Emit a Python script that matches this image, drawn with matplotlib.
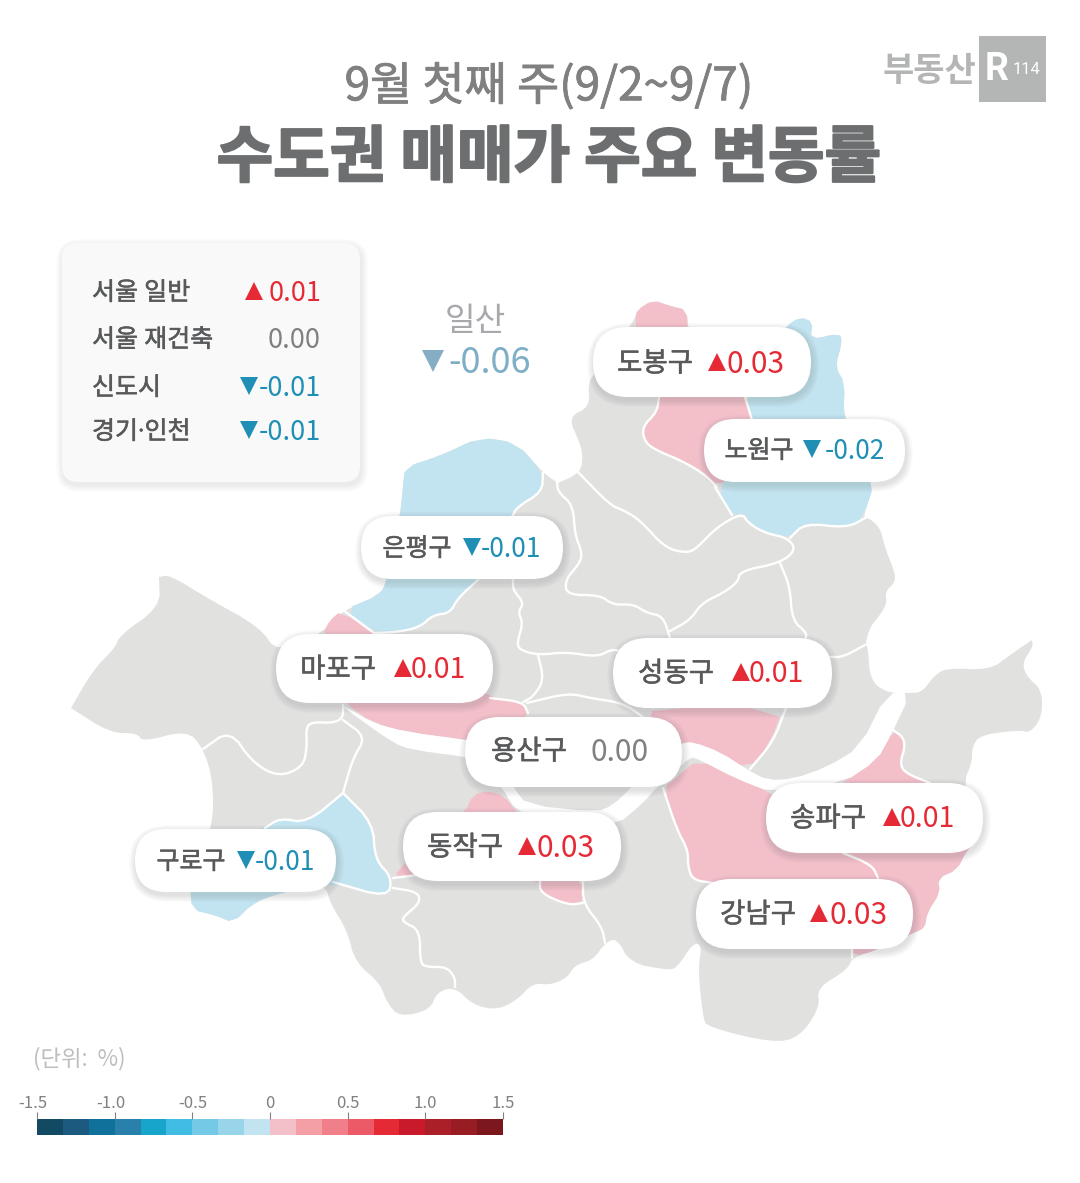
#!/usr/bin/env python3

import numpy as np
import matplotlib
matplotlib.use('Agg')
import matplotlib.pyplot as plt
import matplotlib.patheffects as pe
import matplotlib.transforms as mtrans
from matplotlib.patches import FancyBboxPatch, Polygon

plt.rcParams['font.family'] = ['Noto Sans CJK KR', 'DejaVu Sans']

GRAY = '#e1e1e0'
PINK = '#f3c0ca'
BLUE = '#c2e3f0'
RED = '#e52a36'
TEAL = '#1f8fb5'
TXT = '#58595b'
NUM = '#808080'

# table in the top left
summary_names = ['서울 일반', '서울 재건축', '신도시', '경기·인천']
summary_values = [0.01, 0.00, -0.01, -0.01]

# districts with a label
district_names = ['도봉구', '노원구', '은평구', '마포구', '성동구', '용산구', '송파구', '강남구', '동작구', '구로구']
district_values = [0.03, -0.02, -0.01, 0.01, 0.01, 0.00, 0.01, 0.03, 0.03, -0.01]

# colour scale
scale_edges = np.linspace(-1.5, 1.5, 19)
scale_colors = ['#134a63', '#1c5a80', '#10719b', '#2880ab', '#18a5cb', '#41bde4', '#74c9e7', '#98d4ea', '#c2e3f0',
                '#f3c0ca', '#f49ea6', '#f17f89', '#ec5a68', '#e52a36', '#c81a2a', '#ab1f28', '#981c24', '#7b171d']
scale_ticks = [-1.5, -1.0, -0.5, 0, 0.5, 1.0, 1.5]
scale_labels = ['-1.5', '-1.0', '-0.5', '0', '0.5', '1.0', '1.5']

# map outlines (points given twice stay sharp after smoothing)
seoul = [(71,708),(71,708),(93,670),(115,648),(120,635),(160,607),(159,577),(159,577),(170,575),(207,598),(260,627),(277,653),
         (323,633),(340,612),(380,595),(387,580),(400,516),(403,487),(405,467),(440,456),(480,437),(517,443),
         (543,473),(558,483),(558,483),(580,473),(583,457),(580,443),(568,417),(590,407),(588,383),(595,373),(635,320),
         (637,310),(653,300),(670,306),(687,310),(688,335),(785,335),(785,327),(800,317),(813,322),(810,340),(840,333),
         (842,343),(835,367),(845,383),(843,420),(875,482),(863,517),(867,517),(880,527),(885,548),(895,573),
         (895,582),(885,592),(887,603),(880,615),(870,627),(865,645),(868,647),(870,680),(887,693),(912,693),
         (922,692),(935,675),(947,668),(990,670),(1010,655),(1032,640),(1032,640),(1033,647),(1022,663),(1027,677),(1042,690),
         (1042,717),(1030,733),(1020,730),(980,735),(972,747),(972,763),(963,783),(978,840),(967,850),(957,870),
         (938,878),(940,893),(927,913),(925,928),(913,933),(877,950),(853,957),(847,970),(817,988),(820,1007),
         (800,1037),(773,1043),(707,1027),(703,1017),(698,970),(702,945),(693,943),(677,968),(667,970),(630,963),
         (617,938),(605,943),(593,960),(575,965),(567,978),(550,985),(533,983),(517,1000),(497,1010),(473,1005),
         (455,987),(437,992),(430,1010),(400,1017),(387,1003),(380,983),(355,962),(347,930),(330,903),(325,883),
         (280,893),(253,903),(233,923),(215,915),(192,910),(190,885),(213,827),(213,780),(203,748),(187,730),
         (143,742),(137,733),(110,733)]
eunpyeong = [(343,610),(380,595),(387,580),(400,516),(403,487),(405,467),(440,456),(480,437),(517,443),(543,473),
             (542,492),(517,507),(512,517),(478,580),(458,598),(450,613),(433,615),(420,627),(398,632),(375,633)]
dobong = [(635,320),(637,310),(653,300),(670,306),(687,310),(688,335),(733,335),(745,397),(752,420),(740,470),(717,487),
          (703,473),(680,460),(660,452),(645,443),(642,427),(657,412),(659,397),(640,380)]
nowon = [(745,397),(785,335),(785,327),(800,317),(813,322),(810,340),(840,333),(842,343),(835,367),(845,383),(843,420),
         (875,482),(863,517),(850,527),(827,525),(803,523),(790,538),(767,533),(750,523),(745,513),(732,515),
         (717,487),(740,470),(752,420)]
mapo = [(323,633),(330,620),(341,611),(378,636),(490,698),(523,702),(528,713),(515,745),(467,740),(407,732),
        (373,723),(345,703),(330,680)]
seongdong = [(653,708),(783,708),(770,743),(748,770),(720,752),(693,742),(660,745),(650,720)]
gangnam = [(698,759),(737,779),(773,793),(800,820),(843,853),(872,865),(878,878),(880,900),(852,940),(800,940),
           (713,883),(693,880),(688,867),(688,850),(677,830),(663,788),(677,777)]
songpa = [(840,783),(877,760),(893,730),(903,737),(905,747),(900,763),(905,773),(930,783),(975,820),(978,840),
          (967,850),(957,870),(938,878),(940,893),(927,913),(925,928),(913,933),(877,950),(853,957),(853,940),
          (880,900),(878,878),(872,865),(843,853),(790,840)]
dongjak = [(393,877),(405,863),(465,812),(473,795),(487,791),(503,795),(517,812),(545,850),(583,882),(583,903),
           (568,905),(540,893),(540,880),(470,870),(418,875)]
guro = [(265,828),(280,818),(307,823),(343,793),(343,793),(373,823),(375,860),(392,877),(388,898),(333,882),(280,893),
        (253,903),(233,923),(215,915),(192,910),(190,885),(215,840)]
river = [(343,705),(373,723),(407,732),(467,740),(490,745),(513,787),(527,805),(597,812),(613,805),(632,787),
         (655,755),(683,743),(693,742),(720,752),(748,770),(767,780),(793,779),(827,767),(860,747),(887,693),
         (911,693),(890,737),(877,760),(843,783),(773,793),(737,779),(698,759),(690,757),(672,775),(657,787),
         (643,803),(617,825),(560,830),(517,812),(500,785),(485,762),(467,757),(413,750),(393,743),(343,707)]

borders = [
    [(578,472),(610,505),(623,510),(640,520),(665,548),(687,553),(697,548),(717,527),(742,513),(748,523),(765,533),
     (788,538),(796,550),(780,563),(740,571),(738,582),(723,593),(702,603),(690,620),(670,631)],
    [(715,487),(732,515)],
    [(790,538),(805,523),(847,528),(867,517)],
    [(780,563),(790,587),(792,620),(807,633),(805,640)],
    [(830,657),(843,657),(865,645)],
    [(557,482),(558,492),(573,505),(575,535),(582,552),(580,563),(565,580),(567,595),(600,595),(613,605),(633,604),
     (647,613),(663,616),(670,638)],
    [(513,580),(513,590),(524,603),(518,612),(523,623),(517,643),(520,650),(538,655),(567,652),(597,657),(612,649),(623,652)],
    [(538,655),(544,680),(533,697),(523,702)],
    [(527,703),(568,693),(590,698),(623,703),(643,717)],
    [(657,640),(653,708)],
    [(786,708),(773,742),(750,769)],
    [(343,610),(378,636)],
    [(490,698),(523,702),(528,713)],
    [(543,473),(542,492),(517,507),(512,517)],
    [(478,580),(458,598),(450,613),(433,615),(420,627),(398,632),(375,633)],
    [(659,397),(657,412),(642,427),(645,443),(660,452),(680,460),(703,473),(717,487)],
    [(745,397),(752,420)],
    [(203,749),(230,730),(252,762),(278,777),(303,767),(307,747),(306,727),(313,722),(333,723),(343,718),(343,705)],
    [(343,720),(366,737),(353,758),(343,793)],
    [(265,828),(280,818),(307,823),(343,793),(343,793),(373,823),(375,860),(392,877),(388,898),(333,882)],
    [(393,888),(418,892),(420,903),(403,917),(403,922),(420,930),(420,963),(427,967),(447,967),(455,978),(455,987)],
    [(393,878),(418,875)],
    [(583,880),(583,903),(602,927),(605,943)],
    [(540,880),(540,893),(568,905),(583,903)],
    [(663,788),(677,830),(688,850),(688,867),(693,880),(713,883)],
    [(893,730),(903,737),(905,747),(900,763),(905,773),(930,783)],
    [(843,853),(872,865),(878,878)],
    [(852,945),(852,958)],
]


def smooth(pts, closed=True, n=2):
    # corner cutting, the outlines in the picture are rounded
    pts = np.array(pts, dtype=float)
    for _ in range(n):
        if closed:
            nxt = np.roll(pts, -1, axis=0)
            pts = np.column_stack([0.75*pts + 0.25*nxt, 0.25*pts + 0.75*nxt]).reshape(-1, 2)
        else:
            a, b = pts[:-1], pts[1:]
            mid = np.column_stack([0.75*a + 0.25*b, 0.25*a + 0.75*b]).reshape(-1, 2)
            pts = np.vstack([pts[0], mid, pts[-1]])
    return pts


def fmt(v):
    return '{:.2f}'.format(v)


def value_color(v):
    return RED if v > 0 else TEAL if v < 0 else NUM


def value_text(ax, right, y, v, size, tri_x):
    ax.text(right, y+2, fmt(v), color=value_color(v), fontsize=size, ha='right', va='center', zorder=12)
    if v > 0:
        ax.plot([tri_x], [y], marker='^', ms=13, color=RED, mew=0, zorder=12)
    elif v < 0:
        ax.plot([tri_x], [y], marker='v', ms=13, color=TEAL, mew=0, zorder=12)


def rounded(ax, x0, x1, y0, y1, r, face, z, alpha=0.01):
    for i in range(10, 0, -1):
        ax.add_patch(FancyBboxPatch((x0+1-i*0.7, y0+3-i*0.7), x1-x0+i*1.4, y1-y0+i*1.4,
                                    boxstyle='round,pad=0,rounding_size={}'.format(r+i*0.7),
                                    fc='#303030', ec='none', alpha=alpha, zorder=z))
    ax.add_patch(FancyBboxPatch((x0, y0), x1-x0, y1-y0, boxstyle='round,pad=0,rounding_size={}'.format(r),
                                fc=face, ec='none', zorder=z+0.1))


fig = plt.figure(figsize=(10.8, 11.83), dpi=100)
ax = fig.add_axes([0, 0, 1, 1])
ax.set_xlim(0, 1080)
ax.set_ylim(1183, 0)
ax.axis('off')

# map
ax.add_patch(Polygon(smooth(seoul), fc=GRAY, ec='none', zorder=1))
for shape, c in [(eunpyeong, BLUE), (nowon, BLUE), (guro, BLUE), (dobong, PINK), (mapo, PINK),
                 (seongdong, PINK), (gangnam, PINK), (songpa, PINK), (dongjak, PINK)]:
    ax.add_patch(Polygon(smooth(shape, n=1), fc=c, ec='none', zorder=2))
ax.add_patch(Polygon(smooth(river, n=1), fc='white', ec='none', zorder=3))
for b in borders:
    s = smooth(b, closed=False)
    ax.plot(s[:, 0], s[:, 1], color='white', lw=1.7, solid_capstyle='round', zorder=4)

# title
ax.text(549, 87, '9월 첫째 주(9/2~9/7)', color=NUM, fontsize=33, ha='center', va='center',
        path_effects=[pe.withStroke(linewidth=0.6, foreground=NUM)])
ax.text(549, 159, '수도권 매매가 주요 변동률', color='#6d6e70', fontsize=44.3, fontweight='bold', ha='center', va='center',
        path_effects=[pe.withStroke(linewidth=1.5, foreground='#6d6e70')])

# logo
ax.add_patch(plt.Rectangle((979, 36), 67, 66, fc='#b4b5b5', ec='none', zorder=2))
ax.text(929, 70, '부동산', color='#b4b5b5', fontsize=24.5, fontweight='bold', ha='center', va='center')
ax.text(997, 69, 'R', color='white', fontsize=27, fontweight='bold', family='Roboto', ha='center', va='center', zorder=3)
ax.text(1026, 69, '114', color='white', fontsize=12, family='Roboto', ha='center', va='center', zorder=3)

# summary table
rounded(ax, 62, 360, 243, 482, 16, '#f9f9f9', 5, alpha=0.006)
summary_y = [291, 338, 386, 430]
summary_tri = [254, 0, 249, 249]
for n, v, y, t in zip(summary_names, summary_values, summary_y, summary_tri):
    ax.text(92, y+2, n, color=TXT, fontsize=18, ha='left', va='center', zorder=12,
            family=['Roboto', 'Noto Sans CJK KR'], path_effects=[pe.withStroke(linewidth=0.4, foreground=TXT)])
    value_text(ax, 321, y, v, 19.5, t)

# ilsan
ax.text(475, 321, '일산', color='#a7a9ac', fontsize=24, ha='center', va='center')
ax.text(531, 363, '-0.06', color='#7fafc6', fontsize=26, ha='right', va='center')
ax.plot([433], [361], marker='v', ms=15.5, color='#85aec4', mew=0)

# district labels
pills = [(593,811,327,397), (704,905,419,482), (361,563,516,579), (276,493,634,703), (613,832,638,708),
         (465,682,717,787), (766,983,783,853), (696,913,879,949), (403,621,812,881), (135,336,829,892)]
name_x = [655, 759, 417, 338, 676, 529, 828, 758, 465, 191]
tri_x = [717, 812, 472, 403, 741, 0, 892, 819, 527, 246]
value_r = [785, 885, 541, 466, 804, 649, 955, 888, 595, 315]
label_y = [362, 449, 547, 668, 672, 750, 817, 913, 846, 860]
for name, v, p, nx, tx, vr, y in zip(district_names, district_values, pills, name_x, tri_x, value_r, label_y):
    small = p[3]-p[2] < 65
    rounded(ax, p[0], p[1], p[2], p[3], (p[3]-p[2])/2, 'white', 6)
    ax.text(nx, y+2, name, color=TXT, fontsize=18 if small else 19.8, ha='center', va='center', zorder=12,
            path_effects=[pe.withStroke(linewidth=0.4, foreground=TXT)])
    vsize = 19 if small else 20.5 if v == 0.01 else 21.5
    value_text(ax, vr, y, v, vsize, tx)

# colour scale
ax.text(33, 1059, '(단위:  %)', color='#bdbdbd', fontsize=16, ha='left', va='center')
cax = fig.add_axes([37/1080, (1183-1135)/1183, 466/1080, 16/1183])
cax.bar(scale_edges[:-1], np.ones(18), width=np.diff(scale_edges), align='edge', color=scale_colors, linewidth=0)
cax.set_xlim(-1.5, 1.5)
cax.set_ylim(0, 1)
cax.set_yticks([])
cax.xaxis.tick_top()
cax.set_xticks(scale_ticks)
cax.set_xticklabels(scale_labels, fontsize=12, color=NUM)
cax.tick_params(axis='x', length=5, width=0.8, color=NUM, pad=0)
for lab, dx in zip(cax.get_xticklabels(), [-4, -4, 0, 0, 0, 0, 0]):
    lab.set_transform(lab.get_transform() + mtrans.ScaledTranslation(dx/100, 0, fig.dpi_scale_trans))
for sp in cax.spines.values():
    sp.set_visible(False)

fig.savefig('out.png', dpi=100)
